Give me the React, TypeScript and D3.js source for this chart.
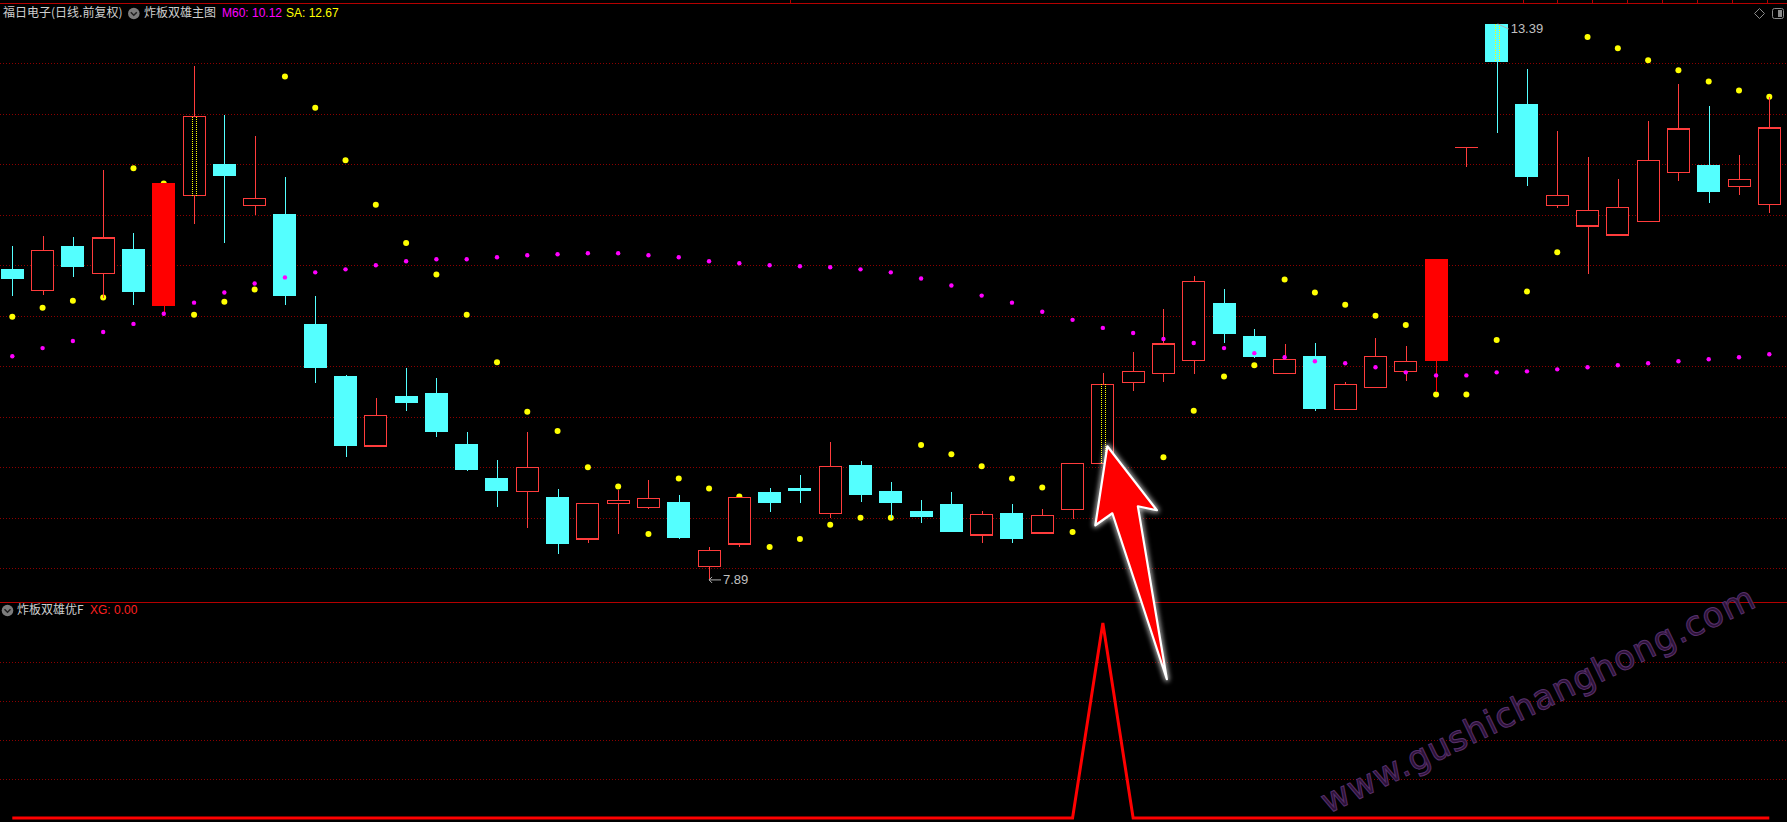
import React, { useEffect, useRef } from 'react';
import * as d3 from 'd3';

// daily bars, 福日电子
const openPrices = [
  10.96, 10.75, 11.19, 10.92, 11.16, 10.60, 11.69, 12.00, 11.59, 11.51,
  10.42, 9.90, 9.21, 9.71, 9.74, 9.23, 8.89, 8.76, 8.71, 8.29,
  8.64, 8.60, 8.66, 8.02, 8.24, 8.76, 8.80, 8.54, 9.02, 8.77,
  8.57, 8.64, 8.33, 8.55, 8.35, 8.58, 9.04, 9.84, 9.93, 10.06,
  10.63, 10.30, 9.93, 10.10, 9.57, 9.79, 9.95, 10.05, 12.17, 13.39,
  12.60, 11.59, 11.39, 11.30, 11.43, 11.92, 11.99, 11.78, 11.60,
];
const highPrices = [
  11.19, 11.29, 11.28, 11.94, 11.32, 11.81, 12.97, 12.49, 12.28, 11.87,
  10.70, 9.91, 9.69, 9.98, 9.88, 9.35, 9.07, 9.35, 8.79, 8.64,
  8.78, 8.87, 8.73, 8.21, 8.70, 8.80, 8.92, 9.25, 9.06, 8.85,
  8.68, 8.76, 8.57, 8.64, 8.59, 9.04, 9.93, 10.14, 10.57, 10.89,
  10.77, 10.37, 10.22, 10.23, 9.84, 10.28, 10.20, 11.06, 12.17, 13.39,
  12.94, 12.33, 12.07, 11.85, 12.43, 12.80, 12.58, 12.09, 12.67,
];
const lowPrices = [
  10.70, 10.71, 10.88, 10.68, 10.61, 10.52, 11.41, 11.22, 11.50, 10.61,
  9.83, 9.10, 9.20, 9.56, 9.30, 8.96, 8.61, 8.40, 8.14, 8.25,
  8.34, 8.59, 8.29, 7.89, 8.21, 8.56, 8.65, 8.50, 8.66, 8.50,
  8.45, 8.36, 8.25, 8.25, 8.35, 8.49, 9.04, 9.76, 9.84, 9.92,
  10.23, 10.08, 9.93, 9.56, 9.57, 9.79, 9.85, 9.75, 11.97, 12.31,
  11.79, 11.57, 10.91, 11.30, 11.43, 11.83, 11.62, 11.70, 11.52,
];
const closePrices = [
  10.86, 11.15, 10.98, 11.27, 10.74, 11.81, 12.47, 11.88, 11.66, 10.70,
  9.98, 9.21, 9.51, 9.64, 9.35, 8.97, 8.77, 9.00, 8.24, 8.64,
  8.67, 8.69, 8.30, 8.18, 8.70, 8.65, 8.77, 9.01, 8.73, 8.65,
  8.51, 8.36, 8.53, 8.29, 8.52, 9.04, 9.82, 9.95, 10.22, 10.84,
  10.32, 10.09, 10.07, 9.58, 9.82, 10.10, 10.05, 11.06, 12.17, 13.01,
  11.87, 11.69, 11.54, 11.57, 12.04, 12.35, 11.73, 11.85, 12.36,
];
const m60Values = [
  10.10, 10.18, 10.25, 10.34, 10.42, 10.52, 10.63, 10.73, 10.82, 10.88,
  10.93, 10.96, 11.00, 11.04, 11.06, 11.06, 11.08, 11.10, 11.11, 11.12,
  11.12, 11.10, 11.08, 11.04, 11.02, 11.00, 10.99, 10.98, 10.96, 10.93,
  10.87, 10.80, 10.70, 10.63, 10.54, 10.46, 10.38, 10.33, 10.27, 10.23,
  10.18, 10.13, 10.09, 10.05, 10.03, 9.99, 9.94, 9.91, 9.91, 9.94,
  9.95, 9.97, 9.99, 10.01, 10.03, 10.05, 10.07, 10.09, 10.12,
];
const saValues = [
  10.49, 10.58, 10.65, 10.68, 11.96, 11.81, 10.51, 10.64, 10.76, 12.87,
  12.56, 12.04, 11.60, 11.22, 10.91, 10.51, 10.04, 9.55, 9.36, 9.00,
  8.81, 8.34, 8.89, 8.79, 8.71, 8.21, 8.29, 8.43, 8.50, 8.50,
  9.22, 9.13, 9.01, 8.89, 8.80, 8.36, 8.55, 8.80, 9.10, 9.56,
  9.90, 10.01, 10.86, 10.73, 10.61, 10.50, 10.41, 9.72, 9.72, 10.26,
  10.74, 11.13, 13.26, 13.15, 13.03, 12.93, 12.82, 12.73, 12.67,
];
const xgValues = [
  0, 0, 0, 0, 0, 0, 0, 0, 0, 0, 0, 0, 0, 0, 0, 0, 0, 0, 0, 0,
  0, 0, 0, 0, 0, 0, 0, 0, 0, 0, 0, 0, 0, 0, 0, 0, 1, 0, 0, 0,
  0, 0, 0, 0, 0, 0, 0, 0, 0, 0, 0, 0, 0, 0, 0, 0, 0, 0, 0,
];
const limitUpDays = [5, 47];
const brokenBoardDays = [6, 36, 49];
const priceGridLevels = [8, 8.5, 9, 9.5, 10, 10.5, 11, 11.5, 12, 12.5, 13];
const xgGridLevels = [0.2, 0.4, 0.6, 0.8];
const maxLabel = '13.39';
const minLabel = '7.89';

const W = 1787;
const H = 822;
const CJK = '"Noto Sans CJK SC", sans-serif';
const LAT = '"Liberation Sans", Arial, sans-serif';

function App() {
  const svgRef = useRef<SVGSVGElement>(null);

  useEffect(() => {
    if (!svgRef.current) return;
    const svg = d3.select(svgRef.current);
    svg.selectAll('*').remove();

    const n = closePrices.length;
    const x = d3.scaleLinear().domain([0, n - 1]).range([12.3, 1769.3]);
    const y = d3.scaleLinear().domain([8, 13]).range([568.3, 63.3]);
    const yXg = d3.scaleLinear().domain([0, 1]).range([818, 623]);
    const bodyW = 23;

    svg.append('rect').attr('width', W).attr('height', H).attr('fill', '#000');

    const defs = svg.append('defs');
    const glow = defs.append('filter').attr('id', 'glow')
      .attr('x', '-30%').attr('y', '-30%').attr('width', '160%').attr('height', '160%');
    glow.append('feGaussianBlur').attr('stdDeviation', 2.5);

    // frame lines
    svg.append('line').attr('x1', 0).attr('x2', W).attr('y1', 3.5).attr('y2', 3.5)
      .attr('stroke', '#b40000');
    [790, 1523, 1557, 1592, 1627, 1662, 1697, 1732, 1767].forEach(tx => {
      svg.append('line').attr('x1', tx + 0.5).attr('x2', tx + 0.5).attr('y1', 0).attr('y2', 3.5)
        .attr('stroke', '#b40000');
    });
    svg.append('line').attr('x1', 0).attr('x2', W).attr('y1', 602.5).attr('y2', 602.5)
      .attr('stroke', '#b40000');

    // grid
    priceGridLevels.forEach(v => {
      const gy = Math.round(y(v)) + 0.5;
      svg.append('line').attr('x1', 0).attr('x2', W).attr('y1', gy).attr('y2', gy)
        .attr('stroke', '#8c0000').attr('stroke-dasharray', '1,2');
    });
    xgGridLevels.forEach(v => {
      const gy = Math.round(yXg(v)) + 0.5;
      svg.append('line').attr('x1', 0).attr('x2', W).attr('y1', gy).attr('y2', gy)
        .attr('stroke', '#8c0000').attr('stroke-dasharray', '1,2');
    });

    // watermark
    svg.append('text')
      .attr('transform', 'translate(1328,814) rotate(-25.8)')
      .attr('font-family', '"DejaVu Sans", sans-serif')
      .attr('font-size', 34)
      .attr('letter-spacing', 1)
      .attr('fill', '#2c1238')
      .attr('stroke', '#57306a')
      .attr('stroke-width', 1)
      .text('www.gushichanghong.com');

    // SA dots (behind bars)
    svg.append('g').selectAll('circle').data(saValues).enter().append('circle')
      .attr('cx', (_, i) => x(i)).attr('cy', d => y(d)).attr('r', 3).attr('fill', '#ffff00');

    // candles
    const g = svg.append('g').attr('shape-rendering', 'crispEdges');
    closePrices.forEach((c, i) => {
      const o = openPrices[i], h = highPrices[i], l = lowPrices[i];
      const cx = Math.round(x(i)) + 0.5;
      const top = y(Math.max(o, c)), bot = y(Math.min(o, c));
      const left = Math.round(x(i) - bodyW / 2);
      const limit = limitUpDays.includes(i);
      if (c < o) {
        g.append('line').attr('x1', cx).attr('x2', cx).attr('y1', y(h)).attr('y2', y(l))
          .attr('stroke', '#54ffff');
        g.append('rect').attr('x', left).attr('y', top).attr('width', bodyW)
          .attr('height', Math.max(bot - top, 1)).attr('fill', '#54ffff');
      } else if (limit) {
        g.append('line').attr('x1', cx).attr('x2', cx).attr('y1', y(h)).attr('y2', y(l))
          .attr('stroke', '#ff0000');
        g.append('rect').attr('x', left).attr('y', top).attr('width', bodyW)
          .attr('height', Math.max(bot - top, 1)).attr('fill', '#ff0000');
      } else if (c === o) {
        g.append('line').attr('x1', cx).attr('x2', cx).attr('y1', y(h)).attr('y2', y(l))
          .attr('stroke', '#ff3c3c');
        g.append('line').attr('x1', left).attr('x2', left + bodyW).attr('y1', top).attr('y2', top)
          .attr('stroke', '#ff3c3c');
      } else {
        g.append('line').attr('x1', cx).attr('x2', cx).attr('y1', y(h)).attr('y2', top)
          .attr('stroke', '#ff3c3c');
        g.append('line').attr('x1', cx).attr('x2', cx).attr('y1', bot).attr('y2', y(l))
          .attr('stroke', '#ff3c3c');
        g.append('rect').attr('x', left + 0.5).attr('y', top).attr('width', bodyW - 1)
          .attr('height', Math.max(bot - top, 1)).attr('fill', '#000')
          .attr('stroke', '#ff3c3c').attr('stroke-width', 1.2);
      }
      if (brokenBoardDays.includes(i)) {
        [-2, 2].forEach(dx => {
          g.append('line').attr('x1', cx + dx).attr('x2', cx + dx).attr('y1', top).attr('y2', bot)
            .attr('stroke', '#ffff00').attr('stroke-dasharray', '1,1');
        });
      }
    });

    // M60 dots
    svg.append('g').selectAll('circle').data(m60Values).enter().append('circle')
      .attr('cx', (_, i) => x(i)).attr('cy', d => y(d)).attr('r', 2.2).attr('fill', '#ff00ff');

    // high / low marks
    const hiIdx = d3.maxIndex(highPrices);
    const loIdx = d3.minIndex(lowPrices);
    const hx = x(hiIdx) + 1, hy = y(highPrices[hiIdx]);
    svg.append('line').attr('x1', hx).attr('y1', hy).attr('x2', hx + 11).attr('y2', hy + 5)
      .attr('stroke', '#b0b0b0');
    svg.append('text').attr('x', hx + 13).attr('y', hy + 6).attr('dominant-baseline', 'middle')
      .attr('font-family', LAT).attr('font-size', 13).attr('fill', '#c0c0c0').text(maxLabel);
    const lx = x(loIdx), ly = y(lowPrices[loIdx]);
    svg.append('path').attr('d', `M${lx + 12},${ly + 0.5}H${lx}M${lx + 3},${ly - 2.5}L${lx},${ly + 0.5}L${lx + 3},${ly + 3.5}`)
      .attr('stroke', '#b0b0b0').attr('fill', 'none');
    svg.append('text').attr('x', lx + 14).attr('y', ly + 1).attr('dominant-baseline', 'middle')
      .attr('font-family', LAT).attr('font-size', 13).attr('fill', '#c0c0c0').text(minLabel);

    // XG line
    const xgLine = d3.line<number>().x((_, i) => x(i)).y(d => yXg(d));
    svg.append('path').datum(xgValues).attr('d', xgLine).attr('fill', 'none')
      .attr('stroke', '#ff0000').attr('stroke-width', 3);

    // annotation arrow pointing at the signal bar
    const sig = xgValues.indexOf(1);
    const ax = x(sig), ay = y(openPrices[sig]);
    const arrowPts: [number, number][] = [
      [4.5, -17], [54, 47], [35, 43], [64, 216], [9.5, 50], [-7.5, 62],
    ];
    const arrowD = 'M' + arrowPts.map(p => `${ax + p[0]},${ay + p[1]}`).join('L') + 'Z';
    svg.append('path').attr('d', arrowD).attr('fill', 'none').attr('stroke', '#ffffff')
      .attr('stroke-width', 5).attr('stroke-linejoin', 'round').attr('opacity', 0.7)
      .attr('filter', 'url(#glow)');
    svg.append('path').attr('d', arrowD).attr('fill', '#ff0000').attr('stroke', '#ffffff')
      .attr('stroke-width', 2.2).attr('stroke-linejoin', 'round');

    // header texts
    const header = (py: number, iconX: number) => {
      svg.append('circle').attr('cx', iconX).attr('cy', py).attr('r', 5.8).attr('fill', '#7c7c7c');
      svg.append('path').attr('d', `M${iconX - 3},${py - 1.2}L${iconX},${py + 1.8}L${iconX + 3},${py - 1.2}`)
        .attr('stroke', '#202020').attr('stroke-width', 1.5).attr('fill', 'none');
    };
    const txt = (tx: number, ty: number, s: string, fill: string, font = CJK) =>
      svg.append('text').attr('x', tx).attr('y', ty).attr('dominant-baseline', 'middle')
        .attr('font-family', font).attr('font-size', 12).attr('fill', fill).text(s);

    txt(3, 13.5, '福日电子(日线.前复权)', '#cfcfcf');
    header(13.5, 133.8);
    txt(144, 13.5, '炸板双雄主图', '#cfcfcf');
    txt(222, 13.5, `M60: ${m60Values[n - 1].toFixed(2)}`, '#ff00ff', LAT);
    txt(286, 13.5, `SA: ${saValues[n - 1].toFixed(2)}`, '#ffff00', LAT);

    header(610.5, 7.5);
    txt(17, 610.5, '炸板双雄优F', '#cfcfcf');
    txt(90, 610.5, `XG: ${xgValues[n - 1].toFixed(2)}`, '#ff2020', LAT);

    // top-right icons
    svg.append('path').attr('d', 'M1759.5,8.5L1764.5,13.5L1759.5,18.5L1754.5,13.5Z')
      .attr('fill', 'none').attr('stroke', '#8a8a8a');
    svg.append('rect').attr('x', 1772.5).attr('y', 8.5).attr('width', 11).attr('height', 10)
      .attr('rx', 2).attr('fill', 'none').attr('stroke', '#8a8a8a');
    svg.append('rect').attr('x', 1778).attr('y', 10).attr('width', 4).attr('height', 7)
      .attr('fill', '#8a8a8a');
  }, []);

  return (
    <div style={{ position: 'absolute', left: 0, top: 0, width: W, height: H, background: '#000' }}>
      <svg ref={svgRef} width={W} height={H} style={{ display: 'block' }}></svg>
    </div>
  );
}

export default App;
